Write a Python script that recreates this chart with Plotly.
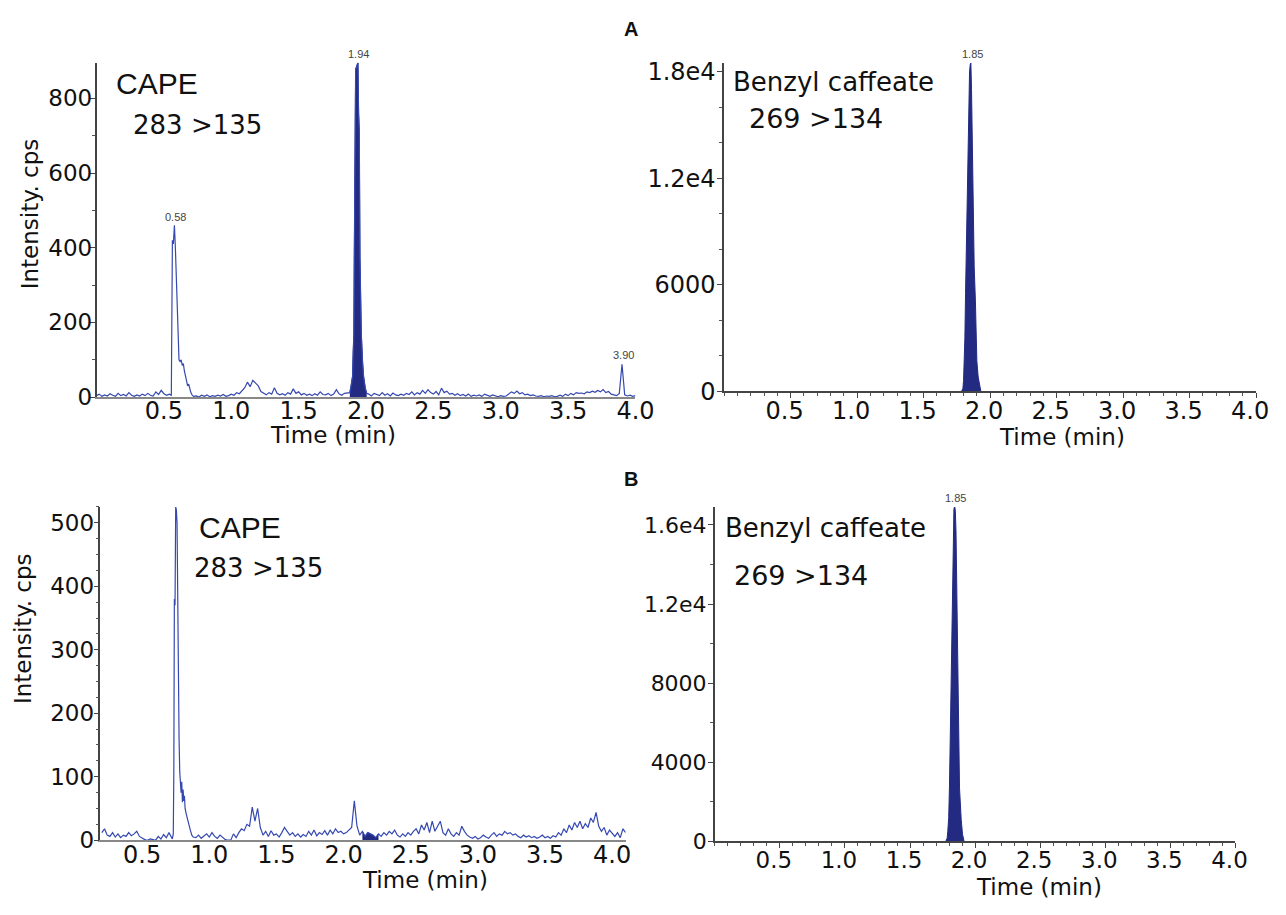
import numpy as np
import plotly.graph_objects as go

W, H = 1286, 915

# ---------------- data ----------------
x_tickvals = [0.5, 1.0, 1.5, 2.0, 2.5, 3.0, 3.5, 4.0]
x_ticktext = ['0.5', '1.0', '1.5', '2.0', '2.5', '3.0', '3.5', '4.0']

scan_dt = 0.02  # min between baseline samples

# Panel A, CAPE 283>135 (baseline segments + peaks)
a_cape_seg1_t0 = 0.00
a_cape_seg1 = [4, 8, 2, 6, 3, 9, 5, 2, 10, 4,
               7, 3, 12, 5, 2, 6, 3, 8, 4, 10,
               5, 3, 14, 7, 18, 9, 5, 8]
a_cape_pk1_t = [0.555, 0.558, 0.563, 0.570, 0.578, 0.585, 0.592, 0.598, 0.605, 0.612,
                0.620, 0.628, 0.636, 0.644, 0.652, 0.660, 0.668, 0.676, 0.684, 0.692,
                0.700, 0.710, 0.720]
a_cape_pk1_y = [5, 200, 420, 410, 460, 400, 330, 250, 150, 100,
                95, 100, 85, 90, 70, 55, 45, 30, 35, 20,
                12, 5, 2]
a_cape_seg2_t0 = 0.74
a_cape_seg2 = [3, 0, 5, 2, 6, 1, 4, 2, 5, 3,
               7, 2, 4, 8, 5, 12, 9, 18, 25, 40,
               28, 45, 38, 30, 15, 10, 6, 12, 8, 25,
               10, 6, 9, 5, 12, 8, 22, 10, 14, 6,
               10, 5, 8, 4, 9, 5, 14, 7, 6, 10,
               4, 8, 20, 9, 5, 10, 12]
a_cape_pk2_t = [1.880, 1.890, 1.900, 1.905, 1.910, 1.913, 1.916, 1.923, 1.930, 1.935,
                1.940, 1.945, 1.950, 1.955, 1.960, 1.965, 1.975, 1.982, 1.995, 2.005]
a_cape_pk2_y = [12, 30, 55, 120, 170, 370, 628, 877, 885, 890,
                895, 760, 711, 374, 250, 169, 90, 55, 23, 10]
a_cape_seg3_t0 = 2.02
a_cape_seg3 = [8, 3, 10, 6, 4, 12, 5, 9, 3, 11,
               6, 4, 8, 5, 10, 7, 14, 6, 12, 8,
               18, 10, 20, 12, 8, 15, 6, 24, 12, 16,
               8, 10, 5, 9, 4, 7, 3, 8, 2, 5,
               3, 6, 2, 8, 4, 2, 6, 3, 1, 4,
               2, 3, 8, 14, 10, 16, 9, 12, 6, 8,
               4, 6, 3, 2, 4, 1, 3, 2, 4, 1,
               2, 5, 2, 8, 4, 10, 6, 12, 10, 11,
               9, 14, 12, 16, 13, 18, 14, 20, 12, 15,
               8, 6, 4, 10, 88, 6, 3, 5, 2, 4]

# Panel A, Benzyl caffeate 269>134
a_bc_t = [1.785, 1.795, 1.800, 1.805, 1.810, 1.815, 1.818, 1.825, 1.830, 1.835,
          1.840, 1.845, 1.850, 1.855, 1.860, 1.865, 1.870, 1.875, 1.880, 1.889,
          1.895, 1.900, 1.910, 1.920, 1.930]
a_bc_y = [0, 150, 600, 1500, 3000, 5500, 7000, 10000, 12300, 14500,
          16500, 18000, 18400, 18500, 17000, 14800, 11500, 8700, 7000, 5100,
          2600, 1700, 800, 300, 0]

# Panel B, CAPE 283>135
b_cape_seg1_t0 = 0.20
b_cape_seg1 = [12, 18, 8, 6, 12, 5, 10, 4, 8, 6,
               12, 7, 10, 14, 6, 3, 1, 0, 2, 1,
               0, 6, 2, 9, 4, 12, 5]
b_cape_pk_t = [0.725, 0.732, 0.736, 0.740, 0.745, 0.750, 0.755, 0.760, 0.765, 0.770,
               0.775, 0.780, 0.785, 0.790, 0.795, 0.800, 0.805, 0.810, 0.815, 0.820,
               0.830, 0.840, 0.850, 0.860, 0.870, 0.880]
b_cape_pk_y = [2, 10, 108, 380, 370, 525, 520, 500, 330, 230,
               160, 108, 95, 75, 92, 60, 80, 62, 70, 50,
               40, 30, 20, 15, 8, 5]
b_cape_seg2_t0 = 0.90
b_cape_seg2 = [4, 8, 3, 6, 10, 5, 12, 6, 3, 8,
               4, 1, 0, 0, 10, 4, 12, 18, 15, 25,
               22, 52, 30, 50, 20, 8, 14, 6, 15, 8,
               10, 5, 12, 20, 14, 8, 12, 6, 10, 5,
               9, 6, 14, 8, 16, 7, 12, 9, 15, 8,
               16, 10, 18, 12, 14, 10, 12, 16, 20, 62,
               22, 8, 14, 6, 12, 10, 8, 4, 10, 6,
               12, 8, 14, 10, 16, 8, 5, 10, 6, 12,
               8, 14, 18, 10, 24, 16, 28, 12, 30, 14,
               22, 30, 12, 8, 18, 10, 6, 12, 8, 22,
               14, 8, 5, 3, 6, 2, 4, 8, 5, 3,
               8, 12, 6, 10, 8, 14, 10, 12, 8, 10,
               6, 4, 8, 5, 7, 4, 6, 3, 5, 8,
               4, 6, 3, 7, 5, 12, 8, 18, 12, 24,
               16, 28, 20, 30, 18, 26, 20, 35, 28, 44,
               22, 14, 20, 8, 16, 10, 6, 12, 4, 18,
               12]
b_cape_int_window = [2.13, 2.27]  # integrated (shaded) baseline region

# Panel B, Benzyl caffeate 269>134
b_bc_t = [1.775, 1.785, 1.790, 1.797, 1.803, 1.812, 1.822, 1.831, 1.837, 1.843,
          1.848, 1.853, 1.862, 1.871, 1.880, 1.893, 1.903, 1.915]
b_bc_y = [0, 150, 500, 1190, 2780, 7000, 10600, 14300, 16800, 16950,
          16700, 15700, 10800, 7000, 2700, 1090, 350, 0]


def seg_times(t0, vals):
    return list(np.round(t0 + scan_dt * np.arange(len(vals)), 3))


# Assemble traces
a_cape_t = (seg_times(a_cape_seg1_t0, a_cape_seg1) + a_cape_pk1_t +
            seg_times(a_cape_seg2_t0, a_cape_seg2) + a_cape_pk2_t +
            seg_times(a_cape_seg3_t0, a_cape_seg3))
a_cape_y = a_cape_seg1 + a_cape_pk1_y + a_cape_seg2 + a_cape_pk2_y + a_cape_seg3

b_cape_t = (seg_times(b_cape_seg1_t0, b_cape_seg1) + b_cape_pk_t +
            seg_times(b_cape_seg2_t0, b_cape_seg2))
b_cape_y = b_cape_seg1 + b_cape_pk_y + b_cape_seg2
b_int_t = [t for t in b_cape_t if b_cape_int_window[0] <= t <= b_cape_int_window[1]]
b_int_y = [y for t, y in zip(b_cape_t, b_cape_y) if b_cape_int_window[0] <= t <= b_cape_int_window[1]]

LINE = '#3548b0'
FILL = '#232a82'

fig = go.Figure()
# Top-left
fig.add_trace(go.Scatter(x=a_cape_pk2_t, y=a_cape_pk2_y, mode='lines', fill='tozeroy',
                         line=dict(color=FILL, width=1), fillcolor=FILL, xaxis='x', yaxis='y'))
fig.add_trace(go.Scatter(x=a_cape_t, y=a_cape_y, mode='lines',
                         line=dict(color=LINE, width=1.2), xaxis='x', yaxis='y'))
# Top-right
fig.add_trace(go.Scatter(x=a_bc_t, y=a_bc_y, mode='lines', fill='tozeroy',
                         line=dict(color=FILL, width=1), fillcolor=FILL, xaxis='x2', yaxis='y2'))
# Bottom-left
fig.add_trace(go.Scatter(x=b_int_t, y=b_int_y, mode='lines', fill='tozeroy',
                         line=dict(color=FILL, width=1), fillcolor=FILL, xaxis='x3', yaxis='y3'))
fig.add_trace(go.Scatter(x=b_cape_t, y=b_cape_y, mode='lines',
                         line=dict(color=LINE, width=1.2), xaxis='x3', yaxis='y3'))
# Bottom-right
fig.add_trace(go.Scatter(x=b_bc_t, y=b_bc_y, mode='lines', fill='tozeroy',
                         line=dict(color=FILL, width=1), fillcolor=FILL, xaxis='x4', yaxis='y4'))


def px(x):
    return x / W


def py(y):
    return 1 - y / H


ARIAL = 'Arial, Liberation Sans, sans-serif'
DEJAVU = 'DejaVu Sans, Verdana, sans-serif'


def xaxis(dom, rng, anchor, ticks, minor, linecolor, size, standoff, shift=0):
    return dict(domain=dom, range=rng, anchor=anchor, tickvals=x_tickvals, ticktext=x_ticktext,
                showgrid=False, zeroline=False, showline=True, linecolor=linecolor, linewidth=1.5,
                ticks=ticks, ticklen=5, tickcolor='#444', ticklabelstandoff=standoff,
                ticklabelshift=shift, minor=minor,
                tickfont=dict(family=DEJAVU, size=size, color='#111'))


def yaxis(dom, rng, anchor, tv, tt, minor, size, standoff):
    return dict(domain=dom, range=rng, anchor=anchor, tickvals=tv, ticktext=tt,
                showgrid=False, zeroline=False, showline=True, linecolor='#444', linewidth=1.5,
                ticks='outside', ticklen=5, tickcolor='#444', ticklabelstandoff=standoff,
                minor=minor,
                tickfont=dict(family=DEJAVU, size=size, color='#111'))


MINOR_X = dict(dtick=0.1, ticks='outside', ticklen=3, tickcolor='#555')

fig.update_layout(
    width=W, height=H, margin=dict(l=0, r=0, t=0, b=0),
    paper_bgcolor='white', plot_bgcolor='white', showlegend=False,
    xaxis=xaxis([px(98), px(645)], [0, 4.0], 'y', '', None, '#888', 24, -9),
    yaxis=yaxis([py(401), py(60)], [0, 895], 'x', [0, 200, 400, 600, 800],
                ['0', '200', '400', '600', '800'],
                dict(dtick=100, ticks='outside', ticklen=3, tickcolor='#555'), 23, -7),
    xaxis2=xaxis([px(735), px(1275)], [0, 4.0], 'y2', 'outside', MINOR_X, '#444', 24, -8, -6),
    yaxis2=yaxis([py(395), py(60)], [0, 18514], 'x2', [0, 6000, 12000, 18000],
                 ['0', '6000', '1.2e4', '1.8e4'],
                 dict(dtick=2000, ticks='outside', ticklen=3, tickcolor='#555'), 24, -3),
    xaxis3=xaxis([px(102), px(635)], [0.19, 4.10], 'y3', '', None, '#888', 24, -8),
    yaxis3=yaxis([py(853), py(513)], [0, 525], 'x3', [0, 100, 200, 300, 400, 500],
                 ['0', '100', '200', '300', '400', '500'],
                 dict(dtick=25, ticks='outside', ticklen=3, tickcolor='#555'), 23, -5),
    xaxis4=xaxis([px(725.5), px(1254)], [0, 4.0], 'y4', 'outside', MINOR_X, '#444', 23, -8, -6),
    yaxis4=yaxis([py(854), py(513)], [0, 16913], 'x4', [0, 4000, 8000, 12000, 16000],
                 ['0', '4000', '8000', '1.2e4', '1.6e4'],
                 dict(dtick=2000, ticks='outside', ticklen=3, tickcolor='#555'), 22, -3),
)

ann = []


def text(x, y, s, size, xanchor='left', bold=False, angle=0, color='#111', font=DEJAVU):
    ann.append(dict(x=px(x), y=py(y), xref='paper', yref='paper', text=('<b>%s</b>' % s) if bold else s,
                    showarrow=False, xanchor=xanchor, yanchor='middle', textangle=angle,
                    font=dict(family=font, size=size, color=color)))


# panel letters
text(640, 25, 'A', 20, 'center', bold=True, font=ARIAL)
text(640, 485, 'B', 20, 'center', bold=True, font=ARIAL)
# compound labels
text(116, 81, 'CAPE', 30, font=ARIAL)
text(133, 123, '283 &gt;135', 26)
text(742, 80, 'Benzyl caffeate', 26)
text(758, 117, '269 &gt;134', 27)
text(200, 534, 'CAPE', 30, font=ARIAL)
text(195, 575, '283 &gt;135', 26)
text(734, 535, 'Benzyl caffeate', 26)
text(743, 583, '269 &gt;134', 27)
# axis titles
text(338, 440, 'Time (min)', 23, 'center')
text(1078, 442, 'Time (min)', 23, 'center')
text(431, 894, 'Time (min)', 23, 'center')
text(1055, 901, 'Time (min)', 23, 'center')
text(30, 214, 'Intensity. cps', 23, 'center', angle=-90)
text(24, 637, 'Intensity. cps', 23, 'center', angle=-90)
# retention time labels
text(364, 51, '1.94', 11, 'center', color='#444', font=ARIAL)
text(178, 217, '0.58', 11, 'center', color='#444', font=ARIAL)
text(633, 358, '3.90', 11, 'center', color='#444', font=ARIAL)
text(987, 51, '1.85', 11, 'center', color='#444', font=ARIAL)
text(970, 504, '1.85', 11, 'center', color='#444', font=ARIAL)

fig.update_layout(annotations=ann)
fig.write_html('out.html', config={'displayModeBar': False},
               post_script="document.body.style.margin='0';document.body.style.padding='0';")
